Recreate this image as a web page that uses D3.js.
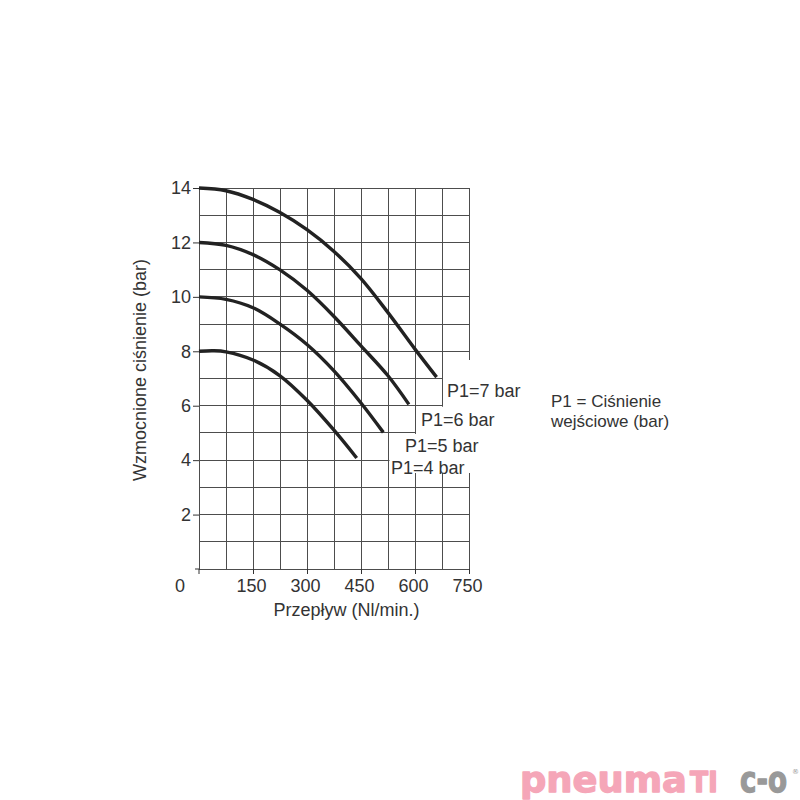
<!DOCTYPE html>
<html>
<head>
<meta charset="utf-8">
<script src="https://cdn.jsdelivr.net/npm/d3@7"></script>
<style>
  html, body { margin: 0; padding: 0; background: #fff; }
  svg { display: block; }
</style>
</head>
<body>
<svg id="chart" width="800" height="800"></svg>
<script>
// ---------------- DATA ----------------
const xTickValues = [150, 300, 450, 600, 750];
const yTickValues = [2, 4, 6, 8, 10, 12, 14];
const xGridValues = [0, 75, 150, 225, 300, 375, 450, 525, 600, 675, 750];
const yGridValues = [0, 1, 2, 3, 4, 5, 6, 7, 8, 9, 10, 11, 12, 13, 14];

const flow7 = [0, 75, 150, 225, 300, 375, 450, 525, 600, 660];
const press7 = [14, 13.9, 13.58, 13.1, 12.47, 11.67, 10.67, 9.42, 8.08, 7.05];
const flow6 = [0, 75, 150, 225, 300, 375, 450, 525, 583];
const press6 = [12, 11.89, 11.55, 10.99, 10.24, 9.28, 8.2, 7.1, 6.05];
const flow5 = [0, 75, 150, 225, 300, 375, 450, 512];
const press5 = [10, 9.91, 9.6, 9.0, 8.25, 7.28, 6.1, 5.02];
const flow4 = [0, 40, 75, 150, 225, 300, 375, 438];
const press4 = [8, 8.02, 7.98, 7.68, 7.1, 6.2, 5.1, 4.08];

const seriesLabels = ["P1=7 bar", "P1=6 bar", "P1=5 bar", "P1=4 bar"];
const xTitle = "Przepływ (Nl/min.)";
const yTitle = "Wzmocnione ciśnienie (bar)";
const noteLines = ["P1 = Ciśnienie", "wejściowe (bar)"];

// ---------------- LAYOUT ----------------
const svg = d3.select("#chart");
const FONT = "'Liberation Sans', Arial, sans-serif";
const FS = 18;
const TEXT = "#333";
const x = d3.scaleLinear().domain([0, 750]).range([199, 469]);
const y = d3.scaleLinear().domain([0, 14]).range([569, 188]);

// grid
const grid = svg.append("g").attr("stroke", "#4d4d4d").attr("stroke-width", 1)
  .attr("shape-rendering", "crispEdges");
grid.selectAll("line.v").data(xGridValues).join("line").attr("class", "v")
  .attr("x1", d => x(d)).attr("x2", d => x(d))
  .attr("y1", y(14)).attr("y2", y(0));
grid.selectAll("line.h").data(yGridValues).join("line").attr("class", "h")
  .attr("x1", x(0)).attr("x2", x(750))
  .attr("y1", d => y(d)).attr("y2", d => y(d));

// white boxes behind the curve labels (stepped cut-out of the grid)
const boxBottom = y(3.53);
const boxes = [
  {x0: x(675) + 1, y0: y(7.68)},
  {x0: x(600) + 1, y0: y(6) + 1},
  {x0: x(525) + 1.5, y0: y(5) + 1},
  {x0: x(525) + 1.5, y0: y(4) + 1}
];
svg.append("g").selectAll("rect").data(boxes).join("rect")
  .attr("x", d => d.x0).attr("y", d => d.y0)
  .attr("width", d => 540 - d.x0).attr("height", d => boxBottom - d.y0)
  .attr("fill", "#fff");

// axes (ticks + labels)
const yAxis = d3.axisLeft(y).tickValues(yTickValues).tickSize(6).tickPadding(2)
  .tickFormat(d3.format("d"));
const gy = svg.append("g").attr("transform", `translate(${x(0)},0)`).call(yAxis);
gy.select(".domain").remove();
gy.selectAll("line").attr("stroke", "#333");
gy.selectAll("text").attr("font-family", FONT).attr("font-size", FS).attr("fill", TEXT);

const xAxis = d3.axisBottom(x).tickValues(xTickValues).tickSize(5).tickPadding(5)
  .tickFormat(d3.format("d"));
const gx = svg.append("g").attr("transform", `translate(0,${y(0)})`).call(xAxis);
gx.select(".domain").remove();
gx.selectAll("line").attr("stroke", "#333");
gx.selectAll("text").attr("font-family", FONT).attr("font-size", FS).attr("fill", TEXT)
  .attr("dx", -2);
// small corner ticks at the origin
svg.append("line").attr("x1", x(0)).attr("x2", x(0)).attr("y1", y(0)).attr("y2", y(0) + 5)
  .attr("stroke", "#333");
svg.append("line").attr("x1", x(0) - 4).attr("x2", x(0)).attr("y1", y(0)).attr("y2", y(0))
  .attr("stroke", "#333");
svg.append("text").attr("x", x(0) - 19).attr("y", 592).attr("text-anchor", "middle")
  .attr("font-family", FONT).attr("font-size", FS).attr("fill", TEXT).text("0");

// axis titles
svg.append("text").attr("x", 346.5).attr("y", 616).attr("text-anchor", "middle")
  .attr("font-family", FONT).attr("font-size", FS).attr("fill", TEXT).text(xTitle);
svg.append("text").attr("transform", "translate(145.5,370) rotate(-90)")
  .attr("text-anchor", "middle")
  .attr("font-family", FONT).attr("font-size", FS).attr("fill", TEXT).text(yTitle);

// curves
const series = [
  {flow: flow7, press: press7},
  {flow: flow6, press: press6},
  {flow: flow5, press: press5},
  {flow: flow4, press: press4}
];
const line = d3.line().x(d => x(d[0])).y(d => y(d[1])).curve(d3.curveCatmullRom.alpha(0.5));
svg.append("g").selectAll("path").data(series).join("path")
  .attr("d", s => line(d3.zip(s.flow, s.press)))
  .attr("fill", "none").attr("stroke", "#222").attr("stroke-width", 3.4)
  .attr("stroke-linecap", "butt");

// curve labels
const labelPos = [
  {x: x(675) + 5, y: y(7) + 18},
  {x: x(600) + 6, y: y(6) + 20},
  {x: x(525) + 17, y: y(5) + 19.5},
  {x: x(525) + 3, y: y(4) + 14}
];
svg.append("g").selectAll("text").data(seriesLabels).join("text")
  .attr("x", (d, i) => labelPos[i].x).attr("y", (d, i) => labelPos[i].y)
  .attr("font-family", FONT).attr("font-size", FS).attr("fill", TEXT).text(d => d);

// note
svg.append("g").selectAll("text").data(noteLines).join("text")
  .attr("x", 551).attr("y", (d, i) => 407 + i * 19.5)
  .attr("font-family", FONT).attr("font-size", 17).attr("fill", TEXT).text(d => d);

// logo (each part horizontally scaled to its width in the reference)
const PINK = "#f5a6b8", GREY = "#999";
const logo = svg.append("g").attr("font-family", "'DejaVu Sans', sans-serif")
  .attr("font-weight", "bold").attr("stroke-width", 1.3).attr("stroke-linejoin", "round");
const logoParts = [
  {t: "pneuma", x0: 520, w: 167, fs: 36, c: PINK},
  {t: "TI", x0: 690, w: 28, fs: 27.5, c: PINK},
  {t: "c-o", x0: 740, w: 47, fs: 36, c: GREY}
];
logoParts.forEach(p => {
  const t = logo.append("text").attr("x", 0).attr("y", 0).attr("font-size", p.fs)
    .attr("fill", p.c).attr("stroke", p.c).text(p.t);
  const natural = t.node().getComputedTextLength() || p.w;
  t.attr("transform", `translate(${p.x0},791.5) scale(${p.w / natural},1)`);
});
logo.append("text").attr("x", 792).attr("y", 774).attr("font-size", 7)
  .attr("font-weight", 400).attr("stroke", "none").attr("fill", GREY).text("®");
</script>
</body>
</html>
